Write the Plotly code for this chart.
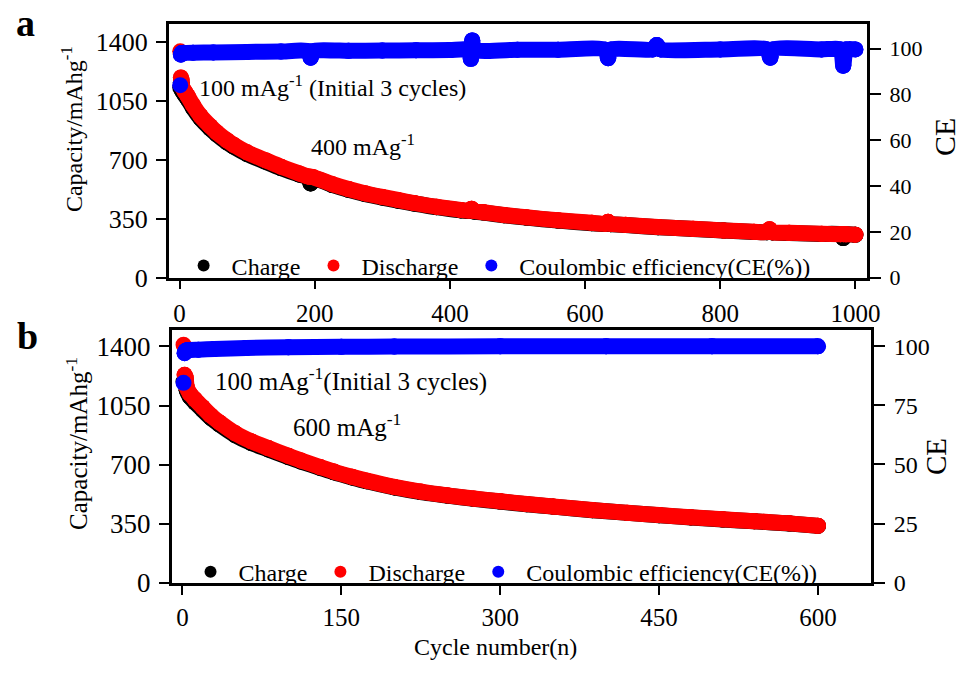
import plotly.graph_objects as go

# ---------------- Data ----------------
# Panel a: 400 mA/g (first 3 cycles at 100 mA/g)
a_cycle = [1, 2, 3, 4, 8, 12, 20, 31, 45, 55, 70, 80, 100, 128, 150, 177, 190, 194, 198, 226,
           250, 274, 300, 323, 347, 380, 416, 428, 432, 436, 450, 480, 513, 560, 610, 630, 634, 638, 660, 708,
           760, 805, 850, 869, 873, 877, 902, 950, 978, 982, 986, 1000]
a_discharge = [1345, 1190, 1175, 1135, 1105, 1080, 1025, 962, 902, 864, 817, 790, 745, 697, 660, 620, 602, 600, 597, 556,
               527, 502, 480, 462, 444, 422, 403, 399, 410, 396, 389, 373, 359, 341, 326, 321, 332, 320, 314, 301,
               291, 281, 273, 271, 288, 270, 267, 261, 259, 259, 258, 256]
a_charge = [1130, 1160, 1155, 1110, 1085, 1062, 1008, 947, 888, 852, 805, 779, 735, 688, 652, 613, 596, 560, 591, 551,
            522, 498, 476, 458, 441, 419, 400, 396, 402, 393, 387, 371, 357, 339, 324, 319, 322, 318, 313, 300,
            290, 280, 272, 270, 280, 269, 266, 260, 258, 236, 257, 255]
a_ce_cycle = [1, 2, 3, 6, 20, 50, 100, 150, 190, 194, 198, 250, 300, 350, 400, 428, 431, 433, 436, 500,
              560, 630, 634, 638, 700, 706, 712, 800, 869, 874, 878, 950, 978, 982, 986, 1000]
a_ce = [84, 97.3, 98, 98.1, 98.2, 98.3, 98.5, 98.7, 98.8, 96, 98.8, 99, 99.1, 99.2, 99.3, 99.4, 95.5, 103.5, 99.4, 99.5,
        99.5, 99.5, 95.8, 99.5, 99.6, 101.5, 99.6, 99.6, 99.6, 96, 99.6, 99.6, 99.6, 92.5, 99.6, 99.6]

# Panel b: 600 mA/g (first 3 cycles at 100 mA/g)
b_cycle = [1, 2, 3, 4, 7, 12, 19, 27, 35, 50, 65, 81, 100, 112, 130, 143, 160, 174, 200, 225,
           250, 275, 300, 325, 350, 387, 420, 450, 480, 510, 540, 573, 600]
b_discharge = [1410, 1232, 1215, 1160, 1120, 1085, 1040, 990, 950, 885, 838, 798, 752, 724, 686, 659, 628, 605, 568, 540,
               518, 499, 483, 467, 452, 431, 415, 401, 388, 376, 365, 352, 338]
b_charge = [1192, 1200, 1195, 1140, 1102, 1068, 1024, 976, 937, 874, 828, 790, 745, 718, 681, 654, 624, 601, 565, 537,
            516, 497, 481, 465, 451, 430, 414, 400, 387, 375, 364, 351, 337]
b_ce_cycle = [1, 2, 3, 5, 15, 30, 60, 100, 150, 200, 300, 400, 500, 600]
b_ce = [84.5, 97, 98, 98.3, 98.5, 98.8, 99.2, 99.5, 99.7, 99.8, 99.9, 99.9, 99.9, 99.9]

a_xticks = [0, 200, 400, 600, 800, 1000]
b_xticks = [0, 150, 300, 450, 600]
cap_ticks = [0, 350, 700, 1050, 1400]
a_ce_ticks = [0, 20, 40, 60, 80, 100]
b_ce_ticks = [0, 25, 50, 75, 100]

names = ["Charge", "Discharge", "Coulombic efficiency(CE(%))"]
colors = ["#000000", "#ff0000", "#0000ff"]

FONT = "Liberation Serif"
W, H = 973, 677
SZ = 16

def px_x(p):
    return p / W

def px_y(p):
    return 1 - p / H

fig = go.Figure()

def add_series(xs, ys, color, name, xa, ya, legend, size=SZ):
    # thick band (skip first isolated cycle)
    fig.add_trace(go.Scatter(x=xs[1:], y=ys[1:], mode="lines+markers",
                             line=dict(color=color, width=size, shape="spline", smoothing=0.6),
                             marker=dict(color=color, size=size),
                             xaxis=xa, yaxis=ya, showlegend=False, hoverinfo="skip"))
    # dots for all cycles (and legend entry)
    fig.add_trace(go.Scatter(x=xs, y=ys, mode="markers",
                             marker=dict(color=color, size=size),
                             xaxis=xa, yaxis=ya, name=name, legend=legend, showlegend=True))

add_series(a_cycle, a_charge, colors[0], names[0], "x", "y", "legend")
add_series(a_cycle, a_discharge, colors[1], names[1], "x", "y", "legend")
add_series(a_ce_cycle, a_ce, colors[2], names[2], "x", "y2", "legend")

add_series(b_cycle, b_charge, colors[0], names[0], "x2", "y3", "legend2")
add_series(b_cycle, b_discharge, colors[1], names[1], "x2", "y3", "legend2")
add_series(b_ce_cycle, b_ce, colors[2], names[2], "x2", "y4", "legend2")

ax_common = dict(showline=True, linecolor="black", linewidth=2.5, ticks="outside",
                 tickcolor="black", tickwidth=2, showgrid=False, zeroline=False,
                 color="black")

a_dom_x = [px_x(171), px_x(879)]
a_dom_y = [px_y(284), px_y(25)]
b_dom_x = [px_x(174), px_x(883)]
b_dom_y = [px_y(596), px_y(337)]

leg_common = dict(orientation="h", xanchor="left", yanchor="middle",
                  bgcolor="rgba(0,0,0,0)", font=dict(size=24, family=FONT),
                  itemsizing="constant", itemwidth=46, tracegroupgap=0)

fig.update_layout(
    width=W, height=H,
    margin=dict(l=0, r=0, t=0, b=0),
    paper_bgcolor="white", plot_bgcolor="white",
    font=dict(family=FONT, color="black", size=24),
    xaxis=dict(domain=a_dom_x, range=[-16, 1017.5], anchor="y", mirror=True,
               tickvals=a_xticks, ticklen=9, ticklabelstandoff=3, tickfont=dict(size=25), **ax_common),
    yaxis=dict(domain=a_dom_y, range=[0, 1505], anchor="x",
               tickvals=cap_ticks, ticklen=10, ticklabelstandoff=3, tickfont=dict(size=26), **ax_common),
    yaxis2=dict(overlaying="y", side="right", range=[0, 110.5], anchor="x",
                tickvals=a_ce_ticks, ticklen=11, ticklabelstandoff=4, tickfont=dict(size=22), **ax_common),
    xaxis2=dict(domain=b_dom_x, range=[-10.2, 650.3], anchor="y3", mirror=True,
                tickvals=b_xticks, ticklen=9, ticklabelstandoff=1, tickfont=dict(size=25), **ax_common),
    yaxis3=dict(domain=b_dom_y, range=[0, 1500], anchor="x2",
                tickvals=cap_ticks, ticklen=10, ticklabelstandoff=3, tickfont=dict(size=27), **ax_common),
    yaxis4=dict(overlaying="y3", side="right", range=[0, 107], anchor="x2",
                tickvals=b_ce_ticks, ticklen=11, ticklabelstandoff=4, tickfont=dict(size=24), **ax_common),
    legend=dict(x=px_x(178), y=px_y(272), **leg_common),
    legend2=dict(x=px_x(185), y=px_y(585), **leg_common),
)

ann = [
    dict(text="<b>a</b>", x=px_x(26), y=px_y(0), yanchor="top", font=dict(size=38, family=FONT)),
    dict(text="<b>b</b>", x=px_x(28), y=px_y(320), yanchor="top", font=dict(size=38, family=FONT)),
    dict(text="Capacity/mAhg<sup>-1</sup>", x=px_x(73), y=px_y(132), textangle=-90, font=dict(size=24)),
    dict(text="Capacity/mAhg<sup>-1</sup>", x=px_x(78), y=px_y(453), textangle=-90, font=dict(size=25)),
    dict(text="CE", x=px_x(958), y=px_y(140), textangle=-90, font=dict(size=30)),
    dict(text="CE", x=px_x(948), y=px_y(467), textangle=-90, font=dict(size=29)),
    dict(text="Cycle number(n)", x=px_x(502), y=px_y(677), yanchor="bottom", font=dict(size=24)),
    dict(text="100 mAg<sup>-1</sup> (Initial 3 cycles)", x=px_x(337), y=px_y(88), font=dict(size=24)),
    dict(text="400 mAg<sup>-1</sup>", x=px_x(368), y=px_y(148), font=dict(size=24)),
    dict(text="100 mAg<sup>-1</sup>(Initial 3 cycles)", x=px_x(356), y=px_y(388), font=dict(size=25)),
    dict(text="600 mAg<sup>-1</sup>", x=px_x(352), y=px_y(435), font=dict(size=25)),
]
for a in ann:
    a.setdefault("yanchor", "middle")
    a.update(xref="paper", yref="paper", showarrow=False, xanchor="center")
fig.update_layout(annotations=ann)

fig.write_html("out.html")
